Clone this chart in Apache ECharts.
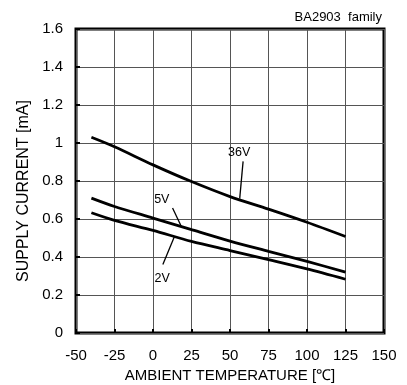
<!DOCTYPE html>
<html><head><meta charset="utf-8">
<script src="https://cdn.jsdelivr.net/npm/echarts@6/dist/echarts.min.js"></script>
<style>html,body{margin:0;padding:0;background:#fff}#c{width:407px;height:385px}</style>
</head><body><div id="c"></div>
<script>
const temps = [-40, -25, 0, 25, 50, 75, 100, 125];
const i36V = [1.03, 0.98, 0.885, 0.797, 0.718, 0.652, 0.583, 0.508];
const i5V  = [0.71, 0.666, 0.605, 0.544, 0.484, 0.43, 0.377, 0.32];
const i2V  = [0.633, 0.593, 0.54, 0.482, 0.434, 0.386, 0.337, 0.283];
const seriesNames = ['36V', '5V', '2V'];
// annotation anchors (data coords): label position, leader start, leader end
const notes = [
  {text: '36V', label: [56, 0.952], from: [58.5, 0.903], to: [56.3, 0.707]},
  {text: '5V',  label: [5.7, 0.702], from: [12.7, 0.658], to: [18.4, 0.561]},
  {text: '2V',  label: [6.0, 0.286], from: [6.4, 0.36], to: [13.8, 0.505]}
];
const FONT = 'Liberation Sans, Arial, sans-serif';
const chart = echarts.init(document.getElementById('c'));
function mk(name, vals) {
  return {
    name, type: 'line', smooth: 0.3, symbol: 'none',
    data: temps.map((t, i) => [t, vals[i]]),
    lineStyle: {color: '#000', width: 2.8}
  };
}
chart.setOption({
  animation: false,
  backgroundColor: '#fff',
  grid: {left: 76, right: 23, top: 29, bottom: 52, show: true, borderColor: '#000', borderWidth: 3,
    containLabel: false, outerBoundsMode: 'none'},
  title: {text: 'BA2903  family', right: 25, top: 11, padding: 0,
    textStyle: {fontFamily: FONT, fontSize: 13, fontWeight: 'normal', color: '#000'}},
  xAxis: {
    type: 'value', min: -50, max: 150, interval: 25,
    name: 'AMBIENT TEMPERATURE [℃]', nameLocation: 'middle', nameGap: 27,
    nameTextStyle: {fontFamily: FONT, fontSize: 15, color: '#000'},
    axisLine: {show: false, onZero: false},
    axisTick: {show: true, inside: true, length: 4, lineStyle: {color: '#000', width: 2}},
    axisLabel: {fontFamily: FONT, fontSize: 15, color: '#000', margin: 15},
    splitLine: {show: true, lineStyle: {color: '#555', width: 1}}
  },
  yAxis: {
    type: 'value', min: 0, max: 1.6, interval: 0.2,
    name: 'SUPPLY CURRENT [mA]', nameLocation: 'middle', nameGap: 44, nameRotate: 90,
    nameTextStyle: {fontFamily: FONT, fontSize: 16, color: '#000', padding: [0, 20, 0, 0]},
    axisLine: {show: false, onZero: false},
    axisTick: {show: true, inside: true, length: 4, lineStyle: {color: '#000', width: 2}},
    axisLabel: {fontFamily: FONT, fontSize: 15, color: '#000', margin: 13},
    splitLine: {show: true, lineStyle: {color: '#555', width: 1}}
  },
  series: [mk(seriesNames[0], i36V), mk(seriesNames[1], i5V), mk(seriesNames[2], i2V)]
});
const g = [];
notes.forEach(n => {
  const p = chart.convertToPixel({gridIndex: 0}, n.label);
  const a = chart.convertToPixel({gridIndex: 0}, n.from);
  const b = chart.convertToPixel({gridIndex: 0}, n.to);
  g.push({type: 'text', x: p[0], y: p[1], style: {text: n.text, fontFamily: FONT, fontSize: 12.5, fill: '#000', align: 'center', verticalAlign: 'middle'}});
  g.push({type: 'line', shape: {x1: a[0], y1: a[1], x2: b[0], y2: b[1]}, style: {stroke: '#000', lineWidth: 1.3}});
});
chart.setOption({graphic: g});
</script></body></html>
